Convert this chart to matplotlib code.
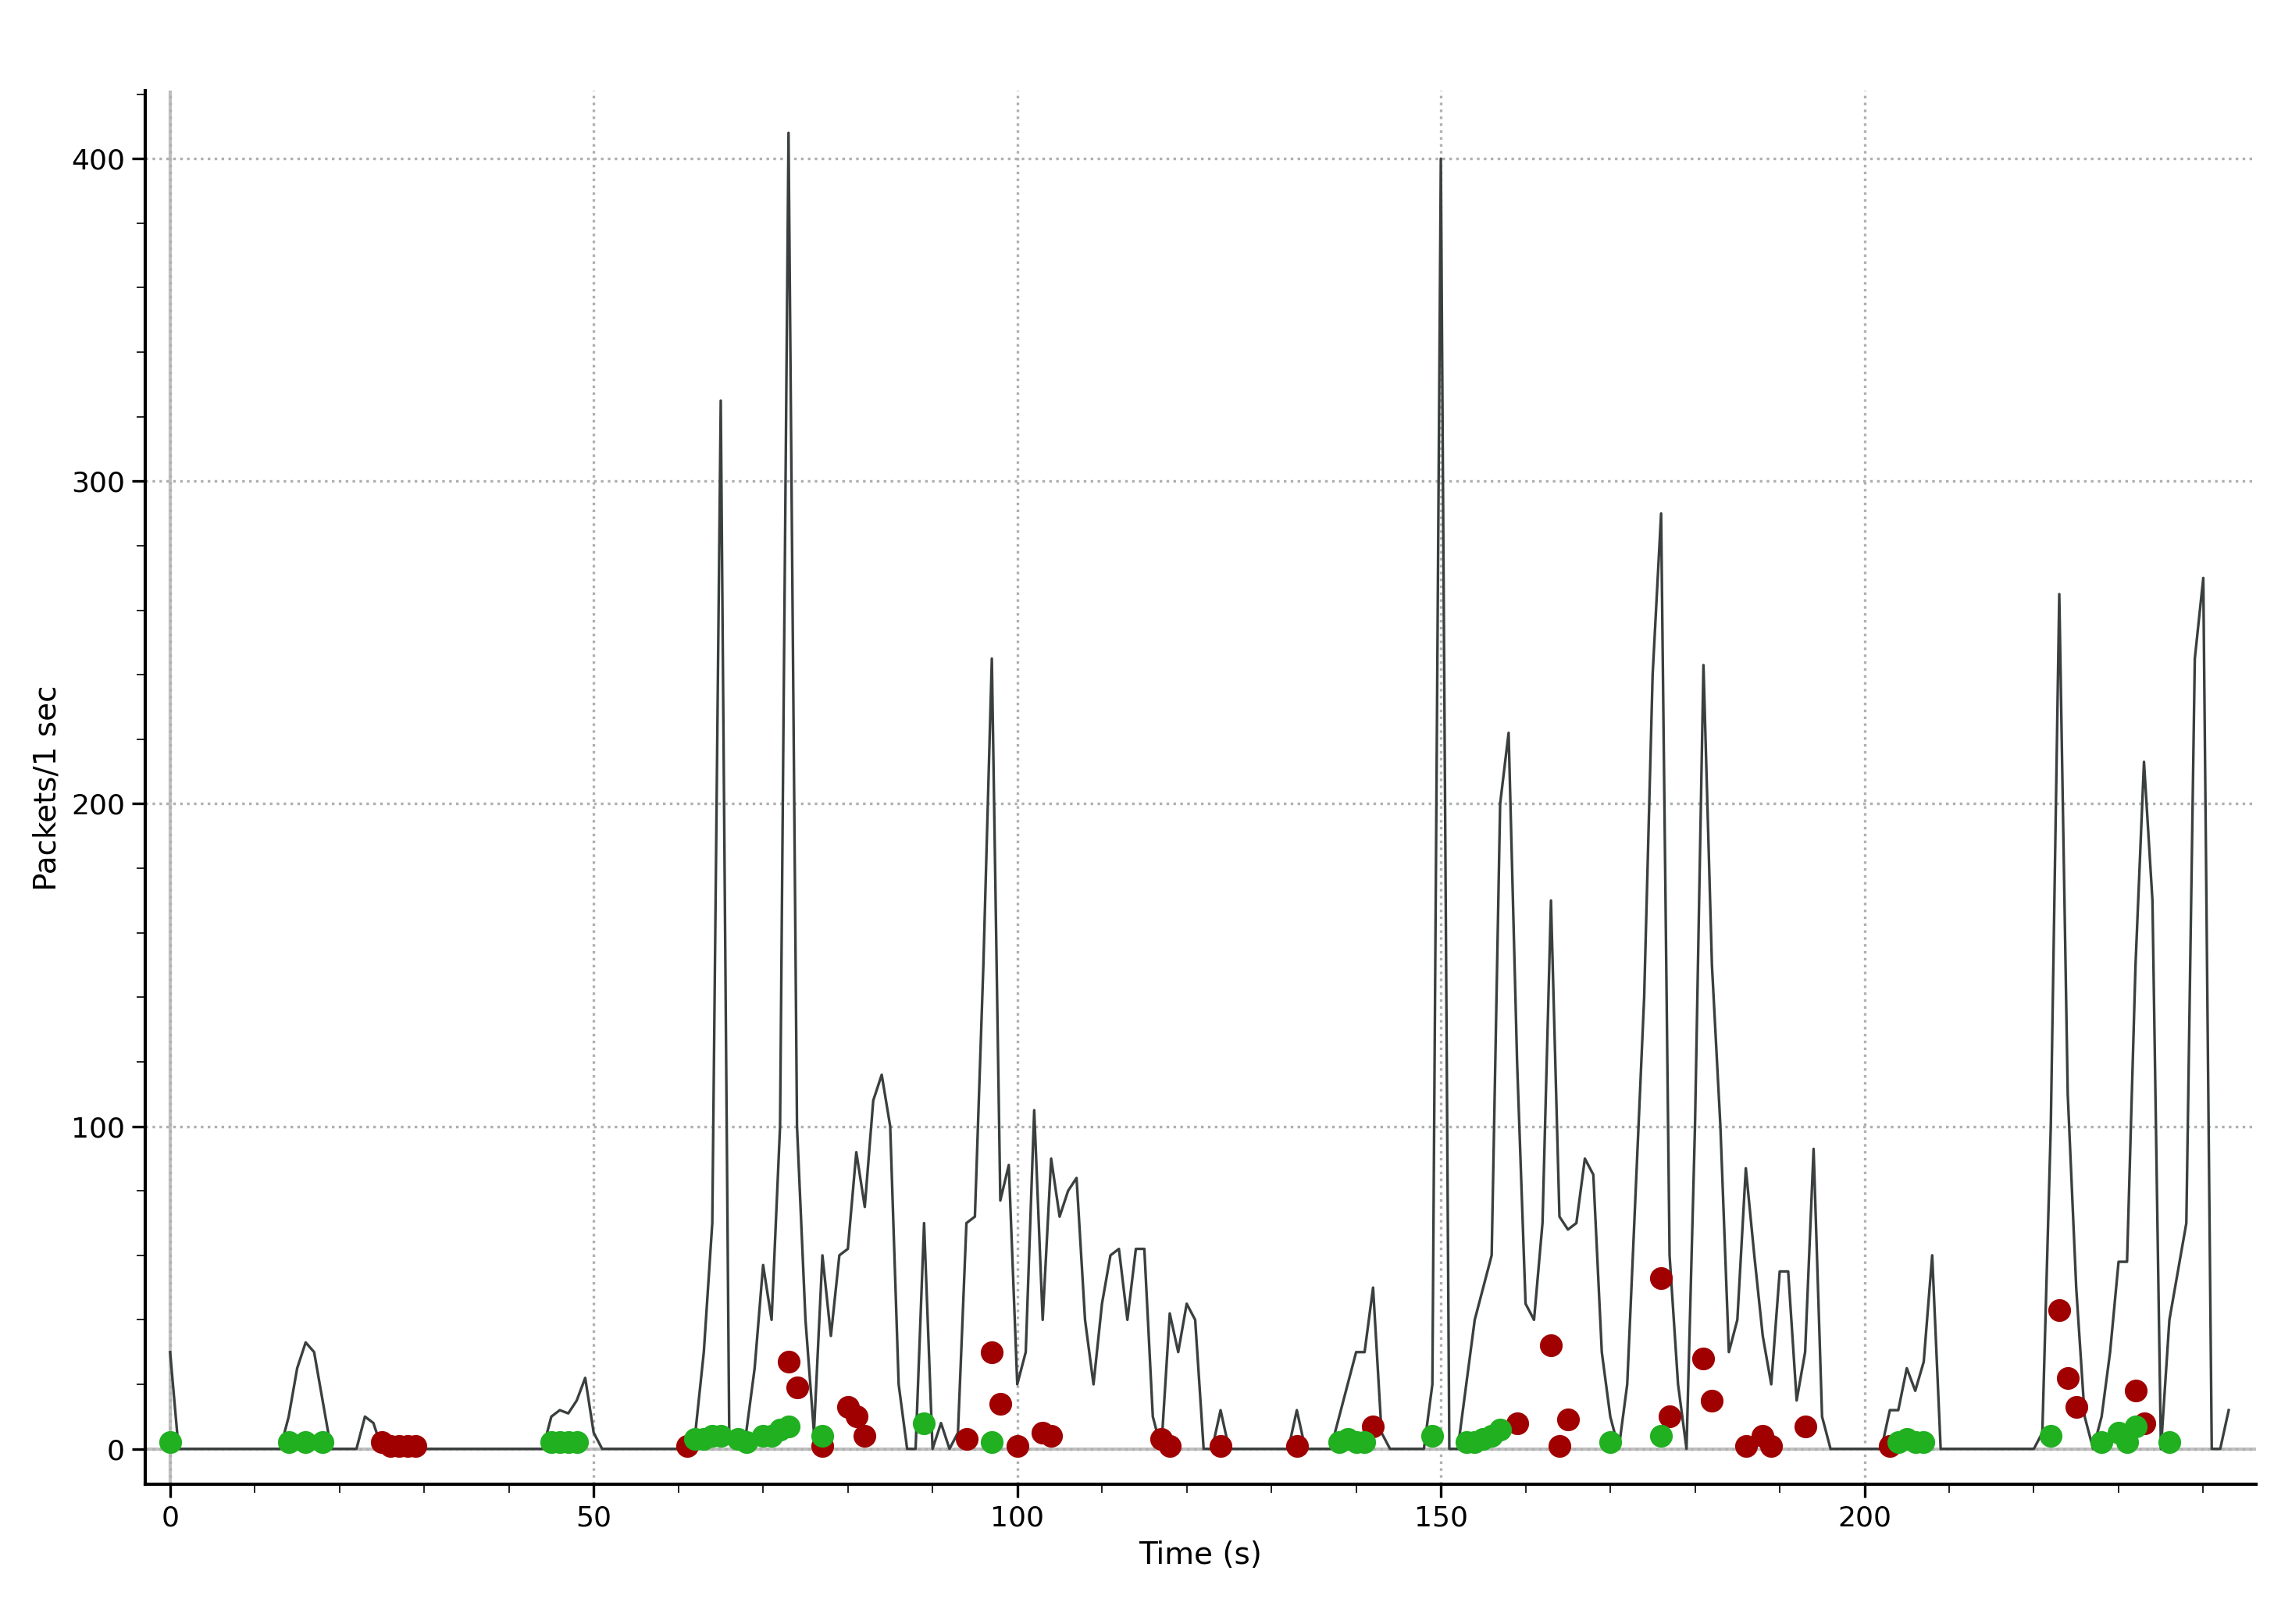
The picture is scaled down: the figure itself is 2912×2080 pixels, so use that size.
import matplotlib
matplotlib.use("Agg")
import matplotlib.pyplot as plt
import numpy as np

vals = {0:30,14:10,15:25,16:33,17:30,18:15,23:10,24:8,45:10,46:12,47:11,48:15,49:22,50:5,
62:5,63:30,64:70,65:325,66:5,68:5,69:25,70:57,71:40,72:100,73:408,74:100,75:40,76:5,77:60,78:35,79:60,80:62,
81:92,82:75,83:108,84:116,85:100,86:20,89:70,91:8,93:5,94:70,95:72,96:150,97:245,98:77,99:88,100:20,
101:30,102:105,103:40,104:90,105:72,106:80,107:84,108:40,109:20,110:45,111:60,112:62,113:40,114:62,115:62,
116:10,118:42,119:30,120:45,121:40,124:12,133:12,138:10,139:20,140:30,141:30,142:50,143:5,149:20,150:400,
153:20,154:40,155:50,156:60,157:200,158:222,159:120,160:45,161:40,162:70,163:170,164:72,165:68,166:70,
167:90,168:85,169:30,170:10,172:20,173:80,174:140,175:240,176:290,177:60,178:20,180:100,181:243,182:150,
183:100,184:30,185:40,186:87,187:60,188:35,189:20,190:55,191:55,192:15,193:30,194:93,195:10,203:12,204:12,
205:25,206:18,207:27,208:60,221:5,222:100,223:265,224:110,225:50,226:10,228:10,229:30,230:58,231:58,
232:150,233:213,234:170,236:40,237:55,238:70,239:245,240:270,243:12}
time = np.arange(0, 244)
packets = np.array([vals.get(int(t), 0) for t in time])

red_t = [25,26,27,28,29,61,73,74,77,80,81,82,94,97,98,100,103,104,117,118,124,133,142,159,163,164,165,176,177,181,182,186,188,189,193,203,223,224,225,232,233]
red_v = [2,1,1,1,1,1,27,19,1,13,10,4,3,30,14,1,5,4,3,1,1,1,7,8,32,1,9,53,10,28,15,1,4,1,7,1,43,22,13,18,8]
green_t = [0,14,16,18,45,46,47,48,62,63,64,65,67,68,70,71,72,73,77,89,97,138,139,140,141,149,153,154,155,156,157,170,176,204,205,206,207,222,228,230,231,232,236]
green_v = [2,2,2,2,2,2,2,2,3,3,4,4,3,2,4,4,6,7,4,8,2,2,3,2,2,4,2,2,3,4,6,2,4,2,3,2,2,4,2,5,2,7,2]

fig = plt.figure(figsize=(14.56, 10.4), dpi=200)
ax = fig.add_axes([0.064, 0.086, 0.928, 0.858])
ax.axhline(0, color="#c0c0c0", lw=1.5, zorder=1)
ax.axvline(0, color="#c0c0c0", lw=1.5, zorder=1)
ax.plot(time, packets, color="#3a3f3f", lw=1.2, zorder=2)
ax.scatter(red_t, red_v, s=90, color="#a00000", zorder=3)
ax.scatter(green_t, green_v, s=90, color="#20b020", zorder=3)
ax.set_xlim(-2.9, 246.2)
ax.set_ylim(-11, 421)
ax.set_xticks([0,50,100,150,200])
ax.set_yticks([0,100,200,300,400])
ax.set_xticks(np.arange(0, 245, 10), minor=True)
ax.set_yticks(np.arange(0, 421, 20), minor=True)
ax.grid(True, which="major", color="#b0b0b0", ls=":", lw=1.2)
for s in ["top", "right"]:
    ax.spines[s].set_visible(False)
ax.spines["left"].set_linewidth(1.5)
ax.spines["bottom"].set_linewidth(1.5)
ax.tick_params(labelsize=13, length=6, width=1.2)
ax.tick_params(which="minor", length=4)
ax.set_xlabel("Time (s)", fontsize=14)
ax.set_ylabel("Packets/1 sec", fontsize=14)
fig.savefig("out.png", dpi=200)
